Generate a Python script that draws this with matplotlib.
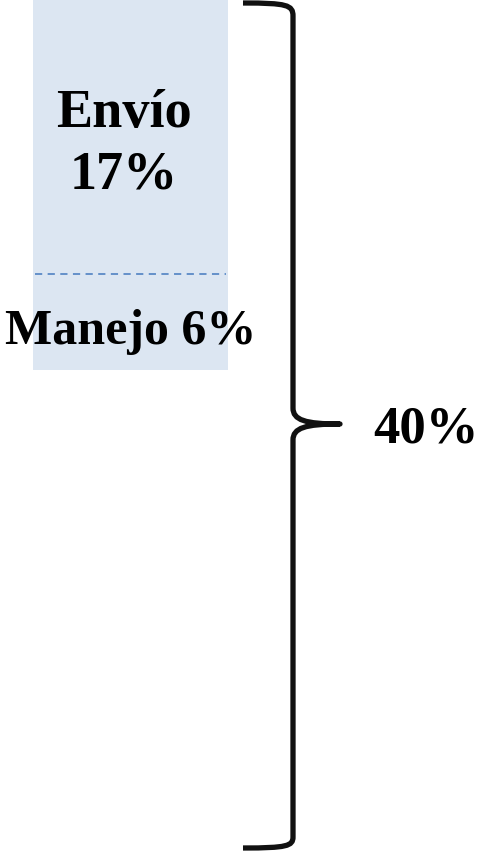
import matplotlib.pyplot as plt
from matplotlib.path import Path
from matplotlib.patches import PathPatch

# stacked cost shares (percent)
segments = ['Envío', 'Manejo']
values = [17, 6]
total_label = '40%'

W, H = 481, 851
fig = plt.figure(figsize=(W / 100, H / 100), dpi=100)
ax = fig.add_axes([0, 0, 1, 1])
ax.set_xlim(0, W)
ax.set_ylim(52.85, 0)
ax.axis('off')

bar_color = '#dce6f2'
bottoms = [0, values[0]]
ax.bar(130.5, values[0], width=195, bottom=0, color=bar_color, linewidth=0)
ax.bar(130.5, values[1], width=195, bottom=values[0], color=bar_color, linewidth=0)

# dashed divider between segments
ax.plot([35, 226], [values[0], values[0]], color='#5b8ac6', lw=1.3,
        dashes=(4, 3))

font = dict(family='Liberation Serif', weight='bold', color='black')
ax.text(124, bottoms[0] + values[0] / 2 + 0.5, f'{segments[0]}\n{values[0]}%',
        ha='center', va='center', linespacing=1.3, size=39, **font)
ax.text(131, bottoms[1] + values[1] / 2 + 0.6, f'{segments[1]} {values[1]}%',
        ha='center', va='center', size=36, **font)

# curly brace, drawn in pixel space
def px(x, y):
    return (x / W, 1 - y / H)

verts = [px(243, 3), px(287, 3), px(293, 5), px(293, 16),
         px(293, 408),
         px(293, 420), px(305, 424), px(340, 424),
         px(305, 424), px(293, 428), px(293, 440),
         px(293, 837),
         px(293, 846), px(287, 848), px(243, 848)]
codes = [Path.MOVETO, Path.CURVE4, Path.CURVE4, Path.CURVE4,
         Path.LINETO,
         Path.CURVE4, Path.CURVE4, Path.CURVE4,
         Path.CURVE4, Path.CURVE4, Path.CURVE4,
         Path.LINETO,
         Path.CURVE4, Path.CURVE4, Path.CURVE4]
ax.add_patch(PathPatch(Path(verts, codes), transform=ax.transAxes,
                       fill=False, lw=3.8, edgecolor='#111111',
                       capstyle='butt', joinstyle='round'))

ax.text(426 / W, 1 - 430 / H, total_label, transform=ax.transAxes,
        ha='center', va='center', size=38, **font)

fig.savefig('out.png', dpi=100)
